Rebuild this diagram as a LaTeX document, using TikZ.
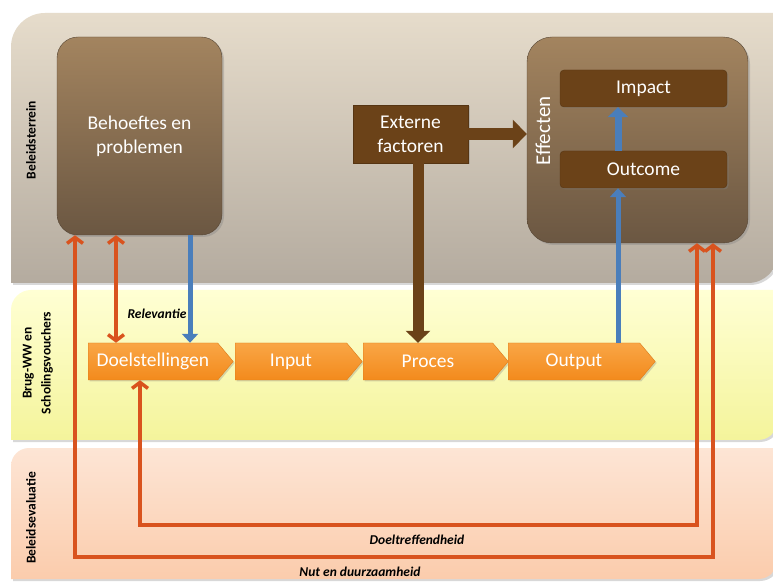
\documentclass[tikz,border=0pt]{standalone}
\usepackage{fontspec}
\setmainfont{Carlito}
\usetikzlibrary{shapes.symbols,arrows.meta,shadows}
\definecolor{beigetop}{HTML}{E6DCCB}
\definecolor{beigebot}{HTML}{B4AB9F}
\definecolor{yellowtop}{HTML}{FFFFD4}
\definecolor{yellowbot}{HTML}{F4F49B}
\definecolor{peachtop}{HTML}{FDE5D5}
\definecolor{peachbot}{HTML}{FBCCAC}
\definecolor{softtop}{HTML}{A3845F}
\definecolor{softbot}{HTML}{6B5742}
\definecolor{darkbrown}{HTML}{6B4218}
\definecolor{orangetop}{HTML}{F9A646}
\definecolor{orangebot}{HTML}{F38A1C}
\definecolor{orangeedge}{HTML}{E07E1A}
\definecolor{bluefill}{HTML}{4A7EBB}
\definecolor{orangeline}{HTML}{D9531E}
\begin{document}
\begin{tikzpicture}[x=1pt,y=1pt,
    boxtext/.style={text=white, align=center, font=\fontsize{19.5}{24}\selectfont},
    softbox/.style={boxtext, shade, top color=softtop, bottom color=softbot,
      draw=softbot!80!black, thin, rounded corners=21pt,
      drop shadow={shadow xshift=2pt, shadow yshift=-2pt, opacity=0.35}},
    darkbox/.style={boxtext, fill=darkbrown, draw=darkbrown!80!black, thin,
      drop shadow={shadow xshift=1.5pt, shadow yshift=-1.5pt, opacity=0.35}},
    chevron/.style={boxtext, shape=signal, signal to=east, signal from=nowhere,
      signal pointer angle=100, inner sep=0pt, minimum height=37pt,
      shade, top color=orangetop, bottom color=orangebot, draw=orangeedge, thin,
      drop shadow={shadow xshift=1.5pt, shadow yshift=-1.5pt, opacity=0.3}},
    bluearrow/.style={draw=bluefill, line width=5pt, -{Triangle[width=16pt,length=9pt]}},
    brownarrow/.style={draw=darkbrown, line width=11pt, -{Triangle[width=24pt,length=12pt]}},
    feedback/.style={draw=orangeline, line width=3.5pt,
      {Straight Barb[length=6pt,width=16pt]}-{Straight Barb[length=6pt,width=16pt]}},
    bandlabel/.style={rotate=90, font=\bfseries\fontsize{13.5}{19}\selectfont},
    evallabel/.style={font=\bfseries\itshape\fontsize{13.5}{16}\selectfont}]
  \useasboundingbox (0,0) rectangle (773,581);
  \fill[white] (0,0) rectangle (773,581);
  % bands
  \shade[top color=beigetop, bottom color=beigebot,
    drop shadow={shadow xshift=2pt, shadow yshift=-2pt, opacity=0.3}]
    (11,298) -- (11,534) arc[start angle=180, end angle=90, radius=34]
    -- (778,568) -- (778,328) arc[start angle=0, end angle=-90, radius=30] -- cycle;
  \shade[top color=yellowtop, bottom color=yellowbot,
    drop shadow={shadow xshift=2pt, shadow yshift=-2pt, opacity=0.3}]
    (11,141) -- (11,271) arc[start angle=180, end angle=90, radius=20]
    -- (778,291) -- (778,161) arc[start angle=0, end angle=-90, radius=20] -- cycle;
  \shade[top color=peachtop, bottom color=peachbot,
    drop shadow={shadow xshift=2pt, shadow yshift=-2pt, opacity=0.3}]
    (11,2) -- (11,115) arc[start angle=180, end angle=90, radius=18]
    -- (778,133) -- (778,22) arc[start angle=0, end angle=-90, radius=20] -- cycle;
  \node[bandlabel] (lbltop) at (31,441) {Beleidsterrein};
  \node[bandlabel, align=center] (lblmid) at (38,218) {Brug-WW en\\Scholingsvouchers};
  \node[bandlabel] (lblbot) at (31,63) {Beleidsevaluatie};
  % boxes
  \node[softbox, minimum width=165pt, minimum height=198pt] (beh) at (139.5,445) {Behoeftes en\\problemen};
  \node[darkbox, minimum width=115pt, minimum height=58pt] (ext) at (410.5,447) {Externe\\factoren};
  \node[softbox, rounded corners=25pt, minimum width=221pt, minimum height=206pt] (eff) at (637.5,441) {};
  \node[boxtext, rotate=90, font=\fontsize{21}{24}\selectfont] (efflabel) at (543,450) {Effecten};
  \node[darkbox, rounded corners=4pt, minimum width=167pt, minimum height=37pt] (imp) at (643.5,492.5) {Impact};
  \node[darkbox, rounded corners=4pt, minimum width=167pt, minimum height=37pt] (outc) at (643.5,411.5) {Outcome};
  % process chain
  \node[chevron, minimum width=145pt, anchor=west] (doel) at (88,219.5) {Doelstellingen};
  \node[chevron, minimum width=127pt, anchor=west] (input) at (235,219.5) {Input};
  \node[chevron, minimum width=145pt, anchor=west] (proces) at (363,219.5) {Proces};
  \node[chevron, minimum width=147pt, anchor=west] (output) at (508,219.5) {Output};
  % arrows
  \draw[bluearrow] (190,0 |- beh.south) -- (190,0 |- doel.north);
  \draw[bluearrow] (618,0 |- output.north) -- (618,0 |- outc.south);
  \draw[bluearrow, line width=7pt, -{Triangle[width=20pt,length=10pt]}] (618,0 |- outc.north) -- (618,0 |- imp.south);
  \draw[brownarrow, line width=12pt, -{Triangle[width=28pt,length=14pt]}] (ext.east) -- (ext.east -| eff.west);
  \draw[brownarrow] (418,0 |- ext.south) -- (418,0 |- proces.north);
  \draw[feedback] (116,0 |- beh.south) -- (116,0 |- doel.north);
  \coordinate (doelL) at (140,56);
  \coordinate (doelR) at (697,56);
  \draw[feedback] (doelL |- doel.south) -- (doelL) -- (doelR) -- (doelR |- eff.south);
  \coordinate (nutL) at (75,24);
  \coordinate (nutR) at (713,24);
  \draw[feedback] (nutL |- beh.south) -- (nutL) -- (nutR) -- (nutR |- eff.south);
  % labels
  \node[evallabel, anchor=west] (relev) at (124,267) {Relevantie};
  \node[evallabel] (doeltr) at (417,41) {Doeltreffendheid};
  \node[evallabel] (nut) at (360,9) {Nut en duurzaamheid};
\end{tikzpicture}
\end{document}
